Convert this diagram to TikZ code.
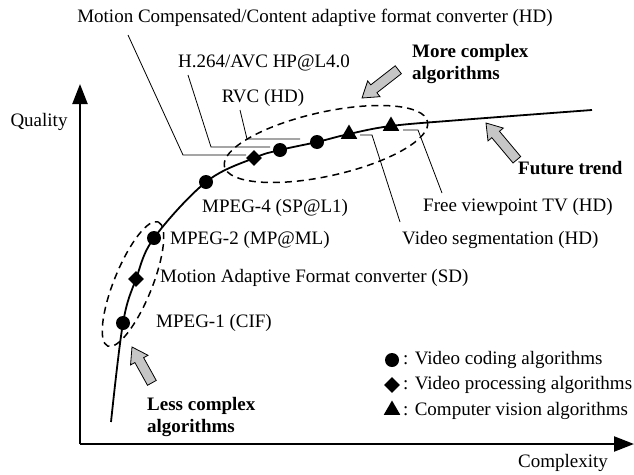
\documentclass[tikz,border=0pt]{standalone}
\usepackage{fontspec}
\setmainfont{Liberation Serif}
\usetikzlibrary{shapes.geometric,arrows.meta}

% grey block arrow: tip position, direction (degrees), total length
\newcommand\fatarrow[3]{%
  \draw[fat, shift={(#1)}, rotate=#2]
    (0,0) -- (-15,10) -- (-15,5) -- (-#3,5) -- (-#3,-5) -- (-15,-5) -- (-15,-10) -- cycle;}

\begin{document}
\begin{tikzpicture}[x=1pt,y=-1pt,
  every node/.style={font=\fontsize{19}{22}\selectfont, inner sep=0pt},
  lbl/.style={anchor=west},
  boldlbl/.style={font=\fontsize{19}{22}\selectfont\bfseries, align=left, anchor=west},
  dot/.style={circle, fill=black, minimum size=14pt},
  diam/.style={diamond, fill=black, minimum size=16pt},
  tri/.style={regular polygon, regular polygon sides=3, fill=black, minimum size=19pt},
  axis/.style={line width=2.2pt, -{Triangle[length=20pt,width=15pt]}},
  trend/.style={line width=1.8pt},
  grp/.style={line width=1.5pt, dash pattern=on 7pt off 5pt},
  leader/.style={line width=0.8pt},
  fat/.style={draw=black, fill=gray!45, line width=0.8pt}
]
\useasboundingbox (0,0) rectangle (634,474);

% axes
\coordinate (o) at (80,444);
\coordinate (ytip) at (80,84);
\coordinate (xtip) at (634,444);
\draw[axis] (o) -- (ytip);
\draw[axis] (o) -- (xtip);
\node (qual) at (39,122) {Quality};
\node (cplx) at (563,463) {Complexity};

% algorithm markers on the trend curve
\coordinate (s0) at (111,422);
\coordinate (s1) at (460,120);
\coordinate (s2) at (592,110);
\node[dot]  (m1) at (123,323) {};
\node[diam] (pa) at (136,279) {};
\node[dot]  (m2) at (154,238) {};
\node[dot]  (m4) at (206,182) {};
\node[diam] (pb) at (254,158) {};
\node[dot]  (c1) at (280,150) {};
\node[dot]  (c2) at (317,142) {};
\node[tri]  (v1) at (349,134) {};
\node[tri]  (v2) at (391,126) {};

\draw[trend] plot[smooth, tension=0.6] coordinates
  {(s0) (m1.center) (pa.center) (m2.center) (m4.center) (pb.center)
   (c1.center) (c2.center) (v1.center) (v2.center) (s1) (s2)};

% groupings
\draw[grp, rotate around={67.9:(133,284)}] (133,284) ellipse [x radius=67, y radius=19];
\draw[grp, rotate around={12.5:(326,144)}] (326,144) ellipse [x radius=104, y radius=32];

% point labels
\node (lmc)  at (315,18) {Motion Compensated/Content adaptive format converter (HD)};
\node (lh)   at (264,63) {H.264/AVC HP@L4.0};
\node (lrvc) at (263,98) {RVC (HD)};
\node[lbl] (lm4)  at (202,208) {MPEG-4 (SP@L1)};
\node[lbl] (lm2)  at (170,240) {MPEG-2 (MP@ML)};
\node[lbl] (lmaf) at (160,278) {Motion Adaptive Format converter (SD)};
\node[lbl] (lm1)  at (156,323) {MPEG-1 (CIF)};
\node[lbl] (lfv)  at (423,207) {Free viewpoint TV (HD)};
\node[lbl] (lvs)  at (402,240) {Video segmentation (HD)};

% leader lines
\coordinate (a0) at (128,35);  \coordinate (a1) at (183,155); \coordinate (a2) at (246,155);
\coordinate (b0) at (188,75);  \coordinate (b1) at (211,147); \coordinate (b2) at (270,147);
\coordinate (r0) at (240,110); \coordinate (r1) at (247,139); \coordinate (r2) at (300,139);
\coordinate (f0) at (442,193); \coordinate (f1) at (418,130); \coordinate (f2) at (403,130);
\coordinate (g0) at (400,222); \coordinate (g1) at (372,135); \coordinate (g2) at (360,135);
\draw[leader] (a0) -- (a1) -- (a2);
\draw[leader] (b0) -- (b1) -- (b2);
\draw[leader] (r0) -- (r1) -- (r2);
\draw[leader] (f0) -- (f1) -- (f2);
\draw[leader] (g0) -- (g1) -- (g2);

% trend annotations
\node[boldlbl] (more) at (412,64) {More complex\\algorithms};
\node[boldlbl] (fut)  at (518,168) {Future trend};
\node[boldlbl] (less) at (147,417) {Less complex\\algorithms};
\fatarrow{362,98}{217.9}{46}
\fatarrow{486,123}{130}{48}
\fatarrow{132,347}{119}{41}

% legend
\node[dot]  (k1) at (392,360) {};
\node[diam] (k2) at (392,385) {};
\node[tri]  (k3) at (392,410) {};
\node[lbl] (kt1) at (403,360) {: Video coding algorithms};
\node[lbl] (kt2) at (403,385) {: Video processing algorithms};
\node[lbl] (kt3) at (403,411) {: Computer vision algorithms};
\end{tikzpicture}
\end{document}
